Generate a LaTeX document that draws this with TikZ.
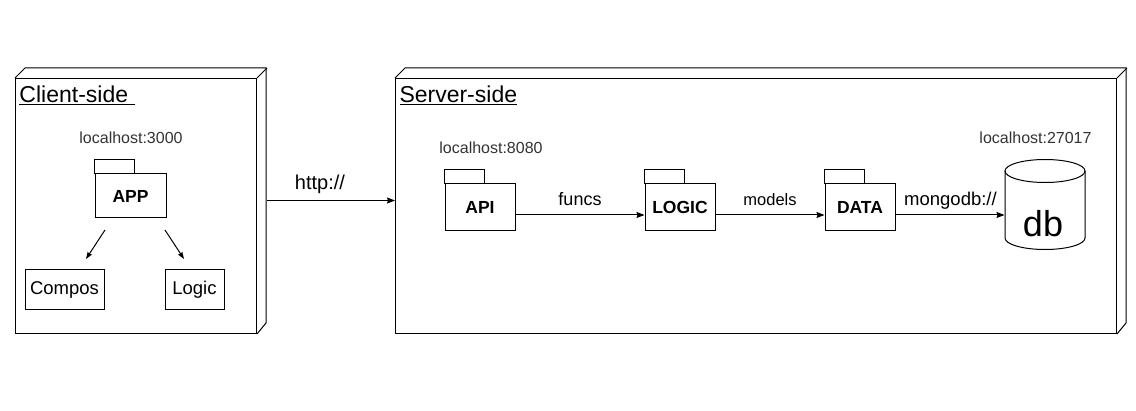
\documentclass[tikz,border=0pt]{standalone}
\usepackage{fontspec}
\setmainfont{Liberation Sans}
\usetikzlibrary{arrows.meta}
\begin{document}
\begin{tikzpicture}[x=1pt,y=-1pt,
  line width=1pt,
  tx/.style={inner sep=0pt,font=\fontsize{#1}{#1}\selectfont},
  host/.style={inner sep=0pt,font=\fontsize{16}{16}\selectfont,text=black!80},
  pkg/.style={draw,fill=white,inner sep=0pt,minimum width=70pt,minimum height=47pt,font=\fontsize{17.5}{17.5}\selectfont\bfseries},
  plain/.style={draw,fill=white,inner sep=0pt,minimum width=79pt,minimum height=40pt,font=\fontsize{18.5}{18.5}\selectfont},
  arr/.style={-{Stealth[length=8pt,width=6pt,inset=1pt]}},
  sarr/.style={-{Stealth[length=7pt,width=5pt,inset=1pt]}}]
\useasboundingbox (0,0) rectangle (1136,411);
% node boxes (3D)
\node[draw,anchor=north west,minimum width=241pt,minimum height=255pt,inner sep=0pt] (client) at (15,78) {};
\draw (client.north west) -- ++(10,-10) -- ++(241,0) -- ++(0,255) -- (client.south east);
\draw (client.north east) -- ++(10,-10);
\node[draw,anchor=north west,minimum width=721pt,minimum height=255pt,inner sep=0pt] (server) at (395,78) {};
\draw (server.north west) -- ++(10,-10) -- ++(721,0) -- ++(0,255) -- (server.south east);
\draw (server.north east) -- ++(10,-10);
\coordinate (clientback) at ([xshift=10pt,yshift=5.5pt]client.east);
% titles
\node[tx=23,anchor=base west] (ctitle) at (19,103) {\underline{Client-side\ }};
\node[tx=23,anchor=base west] (stitle) at (399,103) {\underline{Server-side}};
% hosts
\node[host,anchor=base] (h3000) at (131,144) {localhost:3000};
\node[host,anchor=base] (h8080) at (491,154) {localhost:8080};
\node[host,anchor=base] (h27017) at (1035.5,144) {localhost:27017};
% packages
\node[pkg,minimum width=71pt,minimum height=44pt] (app) at (130.5,196) {APP};
\draw (app.north west) rectangle ++(40,-14);
\node[pkg] (api) at (480,207.5) {API};
\draw (api.north west) rectangle ++(40,-14);
\node[pkg] (logic) at (680,207.5) {LOGIC};
\draw (logic.north west) rectangle ++(40,-14);
\node[pkg] (data) at (860,207.5) {DATA};
\draw (data.north west) rectangle ++(40,-14);
% client components
\node[plain] (compos) at (64.5,290) {Compos};
\node[plain,minimum width=59pt] (logicc) at (194.5,290) {Logic};
\coordinate (a1s) at (105,230);
\coordinate (a1e) at (86,259);
\coordinate (a2s) at (165,230);
\coordinate (a2e) at (184,259);
\draw[sarr] (a1s) -- (a1e);
\draw[sarr] (a2s) -- (a2e);
% database cylinder
\node[minimum width=80pt,minimum height=90pt,inner sep=0pt] (db) at (1045,205) {};
\coordinate (dbt) at ([yshift=-11.5pt]db.north);
\draw ([xshift=-40pt]dbt) -- ++(0,67) arc[start angle=180,end angle=360,x radius=40pt,y radius=11.5pt] -- ([xshift=40pt]dbt);
\draw (dbt) ellipse [x radius=40pt,y radius=11.5pt];
\node[tx=36,anchor=base] (dblabel) at (1043,237) {db};
% connectors
\draw[arr] (clientback) -- (clientback -| server.west);
\node[tx=20,anchor=base] (httpl) at (320,190) {http://};
\draw[arr] ([yshift=-7.5pt]api.east) -- ([yshift=-7.5pt]logic.west);
\node[tx=18,anchor=base] (funcsl) at (580,206) {funcs};
\draw[arr] ([yshift=-7.5pt]logic.east) -- ([yshift=-7.5pt]data.west);
\node[tx=16.5,anchor=base] (modelsl) at (770,206) {models};
\draw[arr] ([yshift=-7.5pt]data.east) -- ([yshift=-7.5pt]data.east -| db.west);
\node[tx=18.5,anchor=base] (mongol) at (950.5,206) {mongodb://};
\end{tikzpicture}
\end{document}
